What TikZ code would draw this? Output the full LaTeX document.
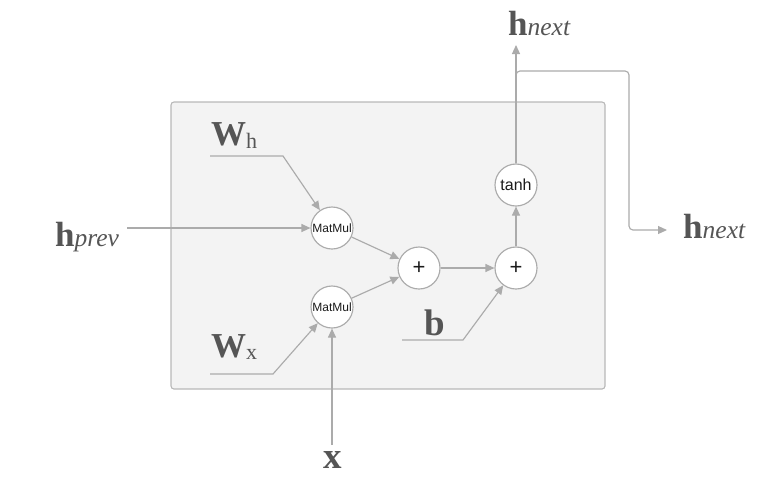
\documentclass[tikz,border=0pt]{standalone}
\usepackage{fontspec}
\setmainfont{Liberation Serif}
\newfontfamily\sansf{Liberation Sans}
\usetikzlibrary{arrows.meta}
\definecolor{linec}{HTML}{ABABAB}
\definecolor{boxfill}{HTML}{F3F3F3}
\definecolor{boxline}{HTML}{B8B8B8}
\definecolor{labc}{HTML}{555555}
\definecolor{opc}{HTML}{1A1A1A}
\newcommand\bigf{\fontsize{35}{40}\selectfont\bfseries}
\newcommand\bigx{\fontsize{37}{42}\selectfont\bfseries}
\newcommand\subf{\fontsize{25.5}{30}\selectfont\mdseries\itshape}
\newcommand\subu{\fontsize{22}{26}\selectfont\mdseries}
\begin{document}
\begin{tikzpicture}[x=1pt,y=-1pt,
  conn/.style={draw=linec, line width=1.15pt},
  arr/.style={conn,-{Triangle[length=9pt,width=8pt]}},
  op/.style={circle, draw=linec, fill=white, line width=1.15pt, minimum size=42pt, inner sep=0pt, text=opc},
  lab/.style={anchor=base west, inner sep=0pt, text=labc}]
\useasboundingbox (0,0) rectangle (783,491);
\node[draw=boxline, fill=boxfill, rounded corners=3pt, line width=1.1pt, minimum width=434pt, minimum height=287pt, inner sep=0pt] (box) at (388,245.5) {};
% operation nodes
\node[op, font=\sansf\fontsize{12}{13}\selectfont] (m1) at (332,228) {MatMul};
\node[op, font=\sansf\fontsize{12}{13}\selectfont] (m2) at (332,307) {MatMul};
\node[op, font=\sansf\fontsize{22}{23}\selectfont] (p1) at (419,268) {+};
\node[op, font=\sansf\fontsize{22}{23}\selectfont] (p2) at (516,268) {+};
\node[op, font=\sansf\fontsize{16}{17}\selectfont] (th) at (516,185) {tanh};
% labels
\node[lab] (hprev) at (55,246) {\bigf h\subf prev};
\node[lab] (wh) at (211,145) {\bigf W\subu\raisebox{-3pt}{h}};
\node[lab] (wx) at (211,357) {\bigf W\subu\raisebox{-2pt}{x}};
\node[lab] (b) at (424,335) {\bigx b};
\node[anchor=base, inner sep=0pt, text=labc] (x) at (333,468) {\bigx x};
\node[lab] (hnt) at (508,35) {\bigf h\subf next};
\node[lab] (hnr) at (683,238) {\bigf h\subf next};
% connectors
\coordinate (hpS) at (127,228);
\draw[arr] (hpS) -- (m1);
\coordinate (whS) at (210,156);
\coordinate (whK) at (283,156);
\draw[arr] (whS) -- (whK) -- (m1);
\coordinate (wxS) at (210,374);
\coordinate (wxK) at (273,374);
\draw[arr] (wxS) -- (wxK) -- (m2);
\coordinate (xS) at (332,445);
\draw[arr] (xS) -- (m2);
\draw[arr] (m1) -- (p1);
\draw[arr] (m2) -- (p1);
\draw[arr] (p1) -- (p2);
\coordinate (bS) at (402,340);
\coordinate (bK) at (463,340);
\draw[arr] (bS) -- (bK) -- (p2);
\draw[arr] (p2) -- (th);
\coordinate (hnT) at (516,45);
\draw[arr] (th) -- (hnT);
\coordinate (spl) at (516,71);
\coordinate (c1) at (629,71);
\coordinate (c2) at (629,230);
\coordinate (hnR) at (667,230);
\draw[arr, rounded corners=4pt] (th.north) -- (spl) -- (c1) -- (c2) -- (hnR);
\end{tikzpicture}
\end{document}
